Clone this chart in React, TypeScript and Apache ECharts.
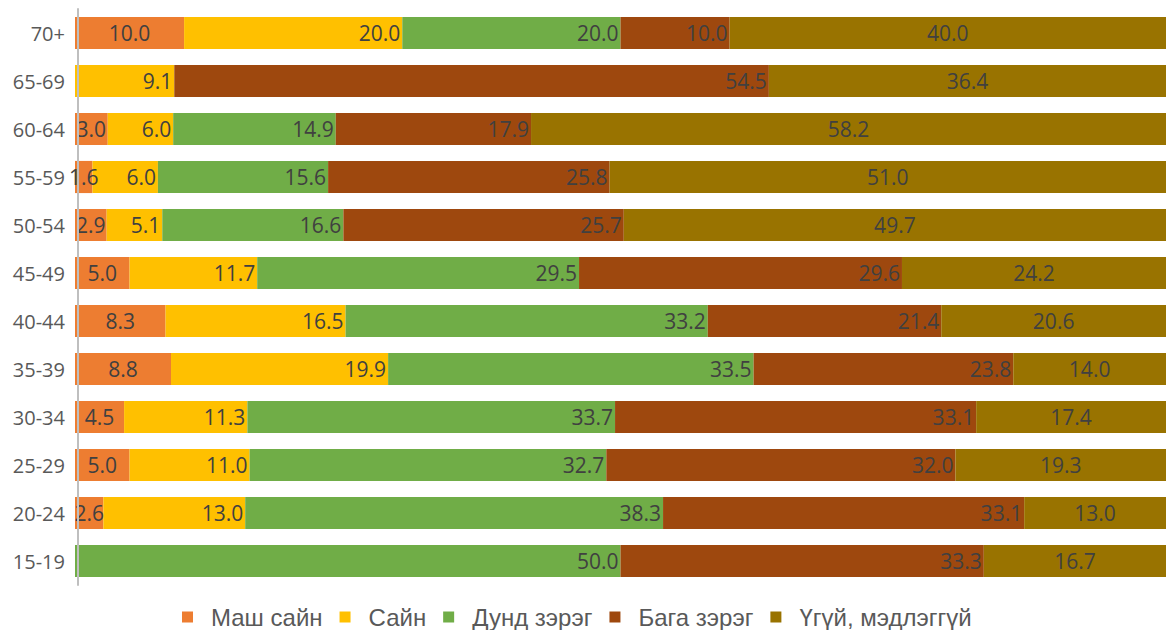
import React, { useEffect, useRef } from "react";
import * as echarts from "echarts";

const categories = ["15-19", "20-24", "25-29", "30-34", "35-39", "40-44", "45-49", "50-54", "55-59", "60-64", "65-69", "70+"];
const seriesNames = ["Маш сайн", "Сайн", "Дунд зэрэг", "Бага зэрэг", "Үгүй, мэдлэггүй"];
const veryGood = [0, 2.6, 5.0, 4.5, 8.8, 8.3, 5.0, 2.9, 1.6, 3.0, 0, 10.0];
const good = [0, 13.0, 11.0, 11.3, 19.9, 16.5, 11.7, 5.1, 6.0, 6.0, 9.1, 20.0];
const medium = [50.0, 38.3, 32.7, 33.7, 33.5, 33.2, 29.5, 16.6, 15.6, 14.9, 0, 20.0];
const low = [33.3, 33.1, 32.0, 33.1, 23.8, 21.4, 29.6, 25.7, 25.8, 17.9, 54.5, 10.0];
const none = [16.7, 13.0, 19.3, 17.4, 14.0, 20.6, 24.2, 49.7, 51.0, 58.2, 36.4, 40.0];

const colors = ["#ED7D31", "#FFC000", "#70AD47", "#9E480E", "#997300"];
const labelPositions = ["inside", "insideRight", "insideRight", "insideRight", "inside"];

export default function App() {
  const ref = useRef<HTMLDivElement>(null);
  useEffect(() => {
    if (!ref.current) return;
    const chart = echarts.init(ref.current, null, { renderer: "svg" });
    const values = [veryGood, good, medium, low, none];
    chart.setOption({
      animation: false,
      color: colors,
      grid: { left: 75, width: 1100, top: 9, height: 576, containLabel: false },
      legend: {
        top: 605,
        left: 182,
        icon: "rect",
        itemWidth: 11,
        itemHeight: 11,
        itemGap: 17,
        padding: 0,
        textStyle: {
          fontFamily: "Liberation Sans Narrow, Arial Narrow, sans-serif",
          fontSize: 24,
          color: "#595959",
          padding: [0, 0, 0, 13],
        },
        data: seriesNames,
      },
      xAxis: {
        type: "value",
        min: 0,
        max: 100,
        show: false,
      },
      yAxis: {
        type: "category",
        data: categories,
        offset: -3,
        z: 5,
        axisLine: { show: true, lineStyle: { color: "#BFBFBF", width: 2 } },
        axisTick: { show: false },
        axisLabel: { fontFamily: "Open Sans, sans-serif", fontSize: 20, color: "#595959", margin: 13 },
      },
      series: seriesNames.map((name, i) => ({
        name,
        type: "bar",
        stack: "total",
        barCategoryGap: "33%",
        data: values[i],
        label: {
          show: true,
          position: labelPositions[i],
          distance: 2,
          fontFamily: "Open Sans, sans-serif",
          fontSize: 21,
          color: "#404040",
          formatter: (p: any) => (p.value ? Number(p.value).toFixed(1) : ""),
        },
      })),
    });
    return () => chart.dispose();
  }, []);
  return <div ref={ref} style={{ width: 1166, height: 630, position: "absolute", left: 0, top: 0 }} />;
}
